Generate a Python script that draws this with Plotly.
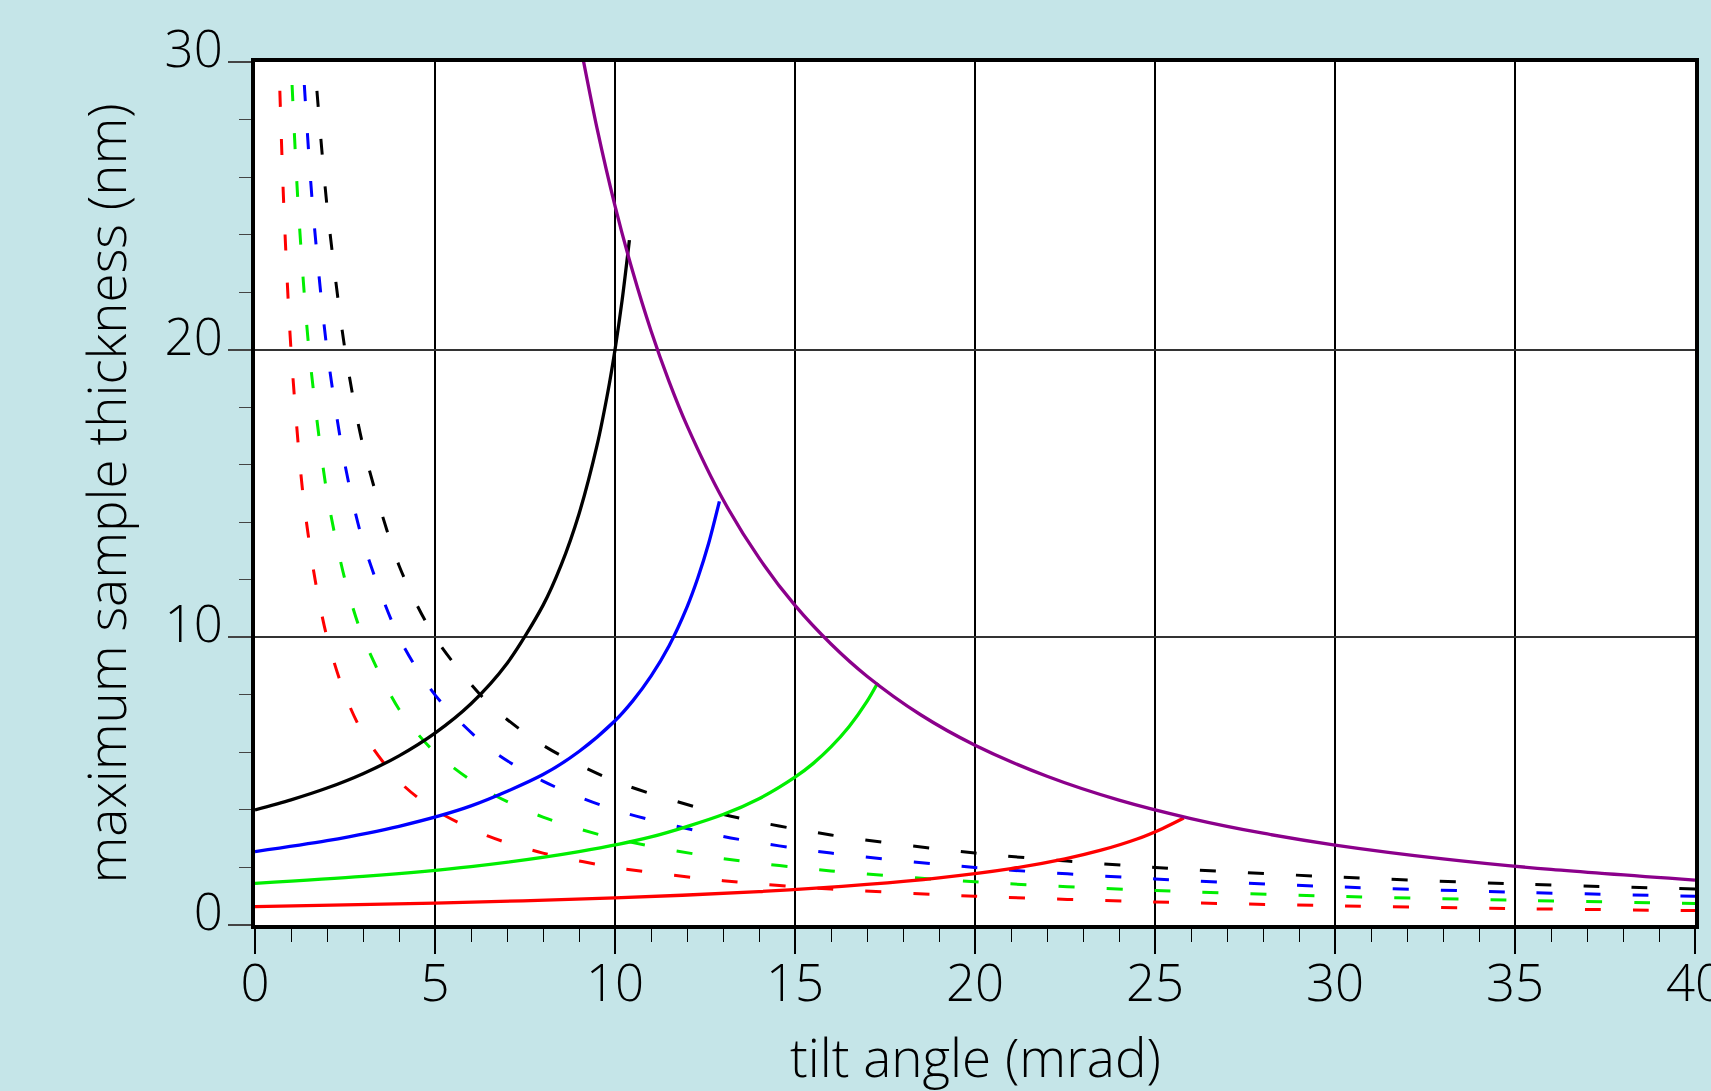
import plotly.graph_objects as go

# ---- data ----
# solid curves (rising)
black_x = [0, 1, 2, 3, 4, 5, 6, 7, 8, 8.5, 9, 9.5, 9.8, 10, 10.2, 10.4]
black_y = [4.0, 4.35, 4.76, 5.26, 5.88, 6.67, 7.69, 9.09, 11.11, 12.5, 14.29, 16.67, 18.52, 20.0, 21.74, 23.81]
blue_x = [0, 2, 4, 6, 8, 9, 10, 10.5, 11, 11.5, 12, 12.3, 12.6, 12.9]
blue_y = [2.55, 2.93, 3.43, 4.14, 5.23, 6.03, 7.10, 7.80, 8.65, 9.70, 11.05, 12.06, 13.26, 14.73]
green_x = [0, 3, 6, 9, 11, 13, 14, 15, 15.5, 16, 16.5, 17, 17.3]
green_y = [1.45, 1.69, 2.03, 2.55, 3.06, 3.84, 4.39, 5.14, 5.61, 6.19, 6.89, 7.77, 8.42]
red_x = [0, 5, 10, 14, 17, 19, 21, 22.5, 23.5, 24.5, 25.2, 25.8]
red_y = [0.64, 0.76, 0.94, 1.16, 1.41, 1.64, 1.96, 2.30, 2.60, 2.99, 3.35, 3.72]

# purple limit curve (falling)
purple_x = [9.1, 9.5, 10, 10.5, 11, 11.5, 12, 13, 14, 15, 16, 17, 18.5, 20, 22, 24, 26, 28, 30, 33, 36, 40]
purple_y = [30.19, 27.70, 25.0, 22.68, 20.66, 18.90, 17.36, 14.79, 12.76, 11.11, 9.77, 8.65, 7.30, 6.25,
            5.17, 4.34, 3.70, 3.19, 2.78, 2.30, 1.93, 1.56]

# dashed curves (falling)
bd_x = [1.72, 2, 2.5, 3, 4, 5, 6.5, 8, 10, 13, 16, 20, 25, 30, 35, 40]
bd_y = [29.0, 25.0, 20.0, 16.67, 12.5, 10.0, 7.69, 6.25, 5.0, 3.85, 3.13, 2.5, 2.0, 1.67, 1.43, 1.25]
ud_x = [1.37, 1.6, 2, 2.5, 3, 4, 5, 6.5, 8, 10, 13, 16, 20, 25, 30, 35, 40]
ud_y = [29.2, 25.0, 20.0, 16.0, 13.33, 10.0, 8.0, 6.15, 5.0, 4.0, 3.08, 2.5, 2.0, 1.6, 1.33, 1.14, 1.0]
gd_x = [1.03, 1.2, 1.5, 2, 2.5, 3, 4, 5, 6.5, 8, 10, 13, 16, 20, 25, 30, 35, 40]
gd_y = [29.2, 25.0, 20.0, 15.0, 12.0, 10.0, 7.5, 6.0, 4.62, 3.75, 3.0, 2.31, 1.88, 1.5, 1.2, 1.0, 0.86, 0.75]
rd_x = [0.69, 0.8, 1.0, 1.33, 1.67, 2, 2.5, 3, 4, 5, 6.5, 8, 10, 13, 16, 20, 25, 30, 35, 40]
rd_y = [29.0, 25.0, 20.0, 15.0, 12.0, 10.0, 8.0, 6.67, 5.0, 4.0, 3.08, 2.5, 2.0, 1.54, 1.25, 1.0, 0.8, 0.67, 0.57, 0.5]

x_ticks = [0, 5, 10, 15, 20, 25, 30, 35, 40]
y_ticks = [0, 10, 20, 30]

FONT = "Open Sans"
WEIGHT = 300
BG = "#c5e5e8"

fig = go.Figure()

dash = "16px,32px"
for xs, ys, c in [(bd_x, bd_y, "black"), (ud_x, ud_y, "#0000ff"),
                  (gd_x, gd_y, "#00ee00"), (rd_x, rd_y, "#ff0000")]:
    fig.add_trace(go.Scatter(x=xs, y=ys, mode="lines",
                             line=dict(color=c, width=3, dash=dash, shape="spline", smoothing=0.8),
                             showlegend=False, hoverinfo="skip"))

for xs, ys, c in [(black_x, black_y, "black"), (blue_x, blue_y, "#0000ff"),
                  (green_x, green_y, "#00ee00"), (red_x, red_y, "#ff0000")]:
    fig.add_trace(go.Scatter(x=xs, y=ys, mode="lines",
                             line=dict(color=c, width=3.3, shape="spline", smoothing=0.8),
                             showlegend=False, hoverinfo="skip"))

fig.add_trace(go.Scatter(x=purple_x, y=purple_y, mode="lines",
                         line=dict(color="#8b008b", width=3.3, shape="spline", smoothing=0.8),
                         showlegend=False, hoverinfo="skip"))

tf = dict(size=51, family=FONT, weight=WEIGHT, color="black")
title_font = dict(size=53, family=FONT, weight=WEIGHT, color="black")

fig.update_layout(
    width=1711, height=1091,
    margin=dict(l=255, r=16, t=62, b=166, autoexpand=False),
    paper_bgcolor=BG, plot_bgcolor="white",
    font=dict(family=FONT, color="black", size=51),
    showlegend=False,
)

fig.update_xaxes(
    range=[0, 40], tickvals=x_ticks, ticktext=[str(v) for v in x_ticks],
    showgrid=True, gridcolor="black", gridwidth=1.5,
    showline=True, linecolor="black", linewidth=4, mirror=True,
    ticks="outside", ticklen=25, tickwidth=1.5, tickcolor="black",
    tickfont=tf, ticklabelstandoff=-14, ticklabeloverflow="allow",
    minor=dict(dtick=1, ticks="outside", ticklen=13, tickwidth=1.2, tickcolor="black", showgrid=False),
    zeroline=False, automargin=False,
)
fig.update_yaxes(
    range=[0, 30], tickvals=y_ticks, ticktext=[str(v) for v in y_ticks],
    showgrid=True, gridcolor="#333333", gridwidth=1.8,
    showline=True, linecolor="black", linewidth=4, mirror=True,
    ticks="outside", ticklen=23, tickwidth=2, tickcolor="#444444",
    tickfont=tf, ticklabelstandoff=-5, ticklabelshift=-13, ticklabeloverflow="allow",
    minor=dict(dtick=2, ticks="outside", ticklen=12, tickwidth=1.2, tickcolor="#444444", showgrid=False),
    zeroline=False, automargin=False,
)

fig.add_annotation(text="tilt angle (mrad)", xref="paper", yref="paper",
                   x=0.5, y=(925 - 1056) / 863, xanchor="center", yanchor="middle",
                   showarrow=False, font=title_font)
fig.add_annotation(text="maximum sample thickness (nm)", xref="paper", yref="paper",
                   x=(105 - 255) / 1440, y=0.5, xanchor="center", yanchor="middle",
                   textangle=-90, showarrow=False, font=title_font)

fig.write_html("out.html", config={"displayModeBar": False},
               post_script="document.body.style.margin='0';")
